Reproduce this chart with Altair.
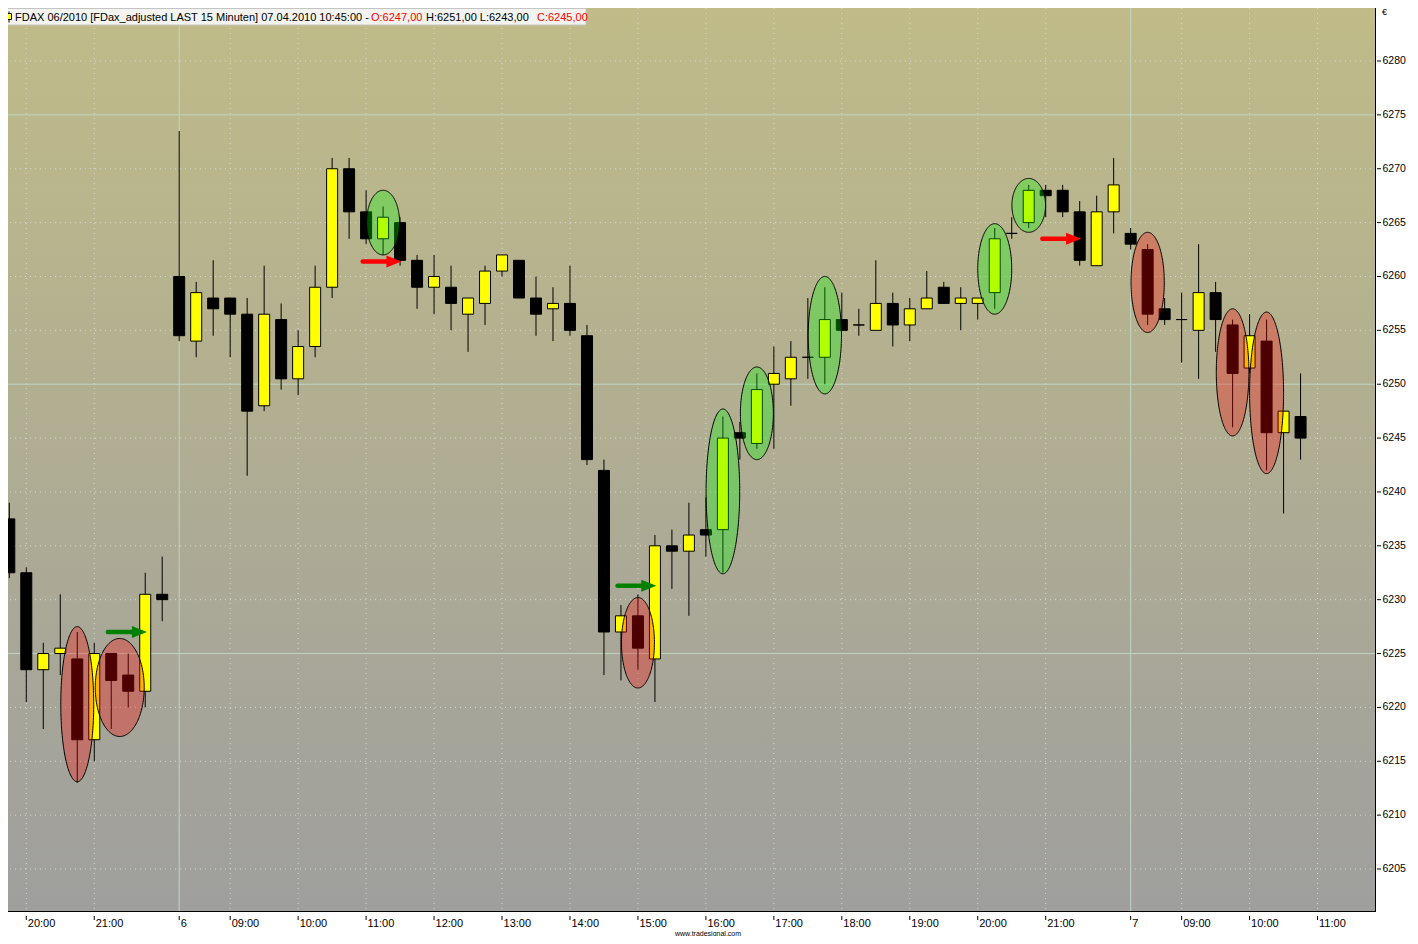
import numpy as np
import pandas as pd
import altair as alt

# ---------------- data ----------------
opens = [6237.5, 6232.5, 6223.5, 6225, 6224.5, 6217, 6225, 6223, 6221.5, 6230.5,
         6260, 6254, 6258, 6258, 6256.5, 6248, 6256, 6250.5, 6253.5, 6259,
         6270, 6266, 6263.5, 6265, 6261.5, 6259, 6259, 6256.5, 6257.5, 6260.5,
         6261.5, 6258, 6257, 6257.5, 6254.5, 6242, 6227, 6228.5, 6224.5, 6235,
         6234.5, 6236.5, 6236.5, 6245.5, 6244.5, 6250, 6250.5, 6252.5, 6252.5, 6256,
         6255.5, 6255, 6257.5, 6255.5, 6257, 6259, 6257.5, 6257.5, 6258.5, 6264,
         6265, 6268, 6268, 6266, 6261, 6266, 6264, 6262.5, 6257, 6256,
         6255, 6258.5, 6255.5, 6251.5, 6254, 6245.5, 6247]
highs = [6239, 6233, 6226, 6230.5, 6227, 6226, 6225, 6225, 6232.5, 6234,
         6273.5, 6259.5, 6261.5, 6258, 6258, 6261, 6257.5, 6255, 6261, 6271,
         6271, 6268, 6266.5, 6265.5, 6262, 6262, 6261, 6258, 6261, 6262,
         6261.5, 6260, 6259, 6261, 6255.5, 6243, 6229.5, 6230.5, 6236, 6236.5,
         6239, 6239.5, 6247, 6246.5, 6251, 6253.5, 6254, 6258, 6259, 6258.5,
         6257, 6261.5, 6258.5, 6258, 6260.5, 6259.5, 6259, 6258, 6264.5, 6265.5,
         6268.5, 6268.5, 6268.5, 6267, 6267.5, 6271, 6264.5, 6263, 6258, 6258.5,
         6263, 6259.5, 6256, 6256.5, 6256, 6247.5, 6251]
lows = [6232, 6220.5, 6218, 6223, 6213, 6215, 6218, 6220, 6220, 6228,
        6254, 6252.5, 6254.5, 6252.5, 6241.5, 6247.5, 6249.5, 6249, 6252.5, 6258,
        6263.5, 6263, 6262, 6261, 6257, 6256.5, 6255, 6253, 6255.5, 6260,
        6258, 6254.5, 6254, 6254.5, 6242.5, 6223, 6222.5, 6223.5, 6220.5, 6231,
        6228.5, 6234, 6232.5, 6243, 6244, 6244, 6248, 6250.5, 6250, 6255,
        6254.5, 6255, 6253.5, 6254, 6257, 6257.5, 6255, 6256, 6257, 6263.5,
        6264.5, 6265.5, 6265.5, 6261, 6261, 6264, 6262.5, 6255.5, 6255.5, 6252,
        6250.5, 6253, 6246, 6251, 6242, 6238, 6243]
closes = [6232.5, 6223.5, 6225, 6225.5, 6217, 6225, 6222.5, 6221.5, 6230.5, 6230,
          6254.5, 6258.5, 6257, 6256.5, 6247.5, 6256.5, 6250.5, 6253.5, 6259, 6270,
          6266, 6263.5, 6265.5, 6261.5, 6259, 6260, 6257.5, 6258, 6260.5, 6262,
          6258, 6256.5, 6257.5, 6255, 6243, 6227, 6228.5, 6225.5, 6235, 6234.5,
          6236, 6236, 6245, 6245, 6249.5, 6251, 6252.5, 6252.5, 6256, 6255,
          6255.5, 6257.5, 6255.5, 6257, 6258, 6257.5, 6258, 6258, 6263.5, 6264,
          6268, 6267.5, 6266, 6261.5, 6266, 6268.5, 6263, 6256.5, 6256, 6256,
          6258.5, 6256, 6251, 6254.5, 6245.5, 6247.5, 6245]

tick_idx = [1, 5, 10, 13, 17, 21, 25, 29, 33, 37, 41, 45, 49, 53, 57, 61, 66, 69, 73, 77]
tick_labels = ["20:00", "21:00", "6", "09:00", "10:00", "11:00", "12:00", "13:00",
               "14:00", "15:00", "16:00", "17:00", "18:00", "19:00", "20:00",
               "21:00", "7", "09:00", "10:00", "11:00"]
day_idx = [10, 66]

price_ticks = list(range(6205, 6285, 5))
major_prices = [6225, 6250, 6275]

ell_center = [4, 6.5, 22, 37, 42, 44, 48, 58, 60, 67, 72, 74]
ell_halfw = [0.97, 1.44, 0.97, 0.97, 0.99, 0.97, 0.98, 1.0, 0.99, 0.98, 0.96, 1.0]
ell_top = [6227.5, 6226.4, 6268.0, 6230.2, 6247.7, 6251.6, 6260.0, 6264.9, 6269.1, 6264.1, 6257.0, 6256.7]
ell_bottom = [6213.1, 6217.3, 6262.0, 6221.8, 6232.4, 6243.0, 6249.1, 6256.5, 6264.1, 6254.8, 6245.2, 6241.7]
ell_kind = ["down", "down", "up", "down", "up", "up", "up", "up", "up", "down", "down", "down"]

arr_start = [5.8, 20.8, 35.8, 60.8]
arr_end = [8.1, 23.08, 38.08, 63.08]
arr_price = [6227.0, 6261.4, 6231.3, 6263.5]
arr_kind = ["long", "short", "long", "short"]

# ---------------- layout / style ----------------
W, H = 1375, 904
X_DOM = [-0.4885, 80.44]
Y_DOM = [6201.01, 6284.92]
FONT = "Liberation Sans"
GRID_DOT = "#d3dbd0"
GRID_SOLID = "#bfd6c3"
ELL_COL = {"down": "#ff0000", "up": "#00ff00"}
ARR_COL = {"long": "#008000", "short": "#ff0000"}

xs = alt.Scale(domain=X_DOM, nice=False, zero=False, padding=0)
ys = alt.Scale(domain=Y_DOM, nice=False, zero=False, padding=0)

n = len(opens)
candles = pd.DataFrame({
    "i": list(range(n)), "o": opens, "h": highs, "l": lows, "c": closes,
})
candles["bt"] = candles[["o", "c"]].max(axis=1)
candles["bb"] = candles[["o", "c"]].min(axis=1)
candles["fill"] = np.where(candles["c"] > candles["o"], "#ffff00", "#000000")

one = pd.DataFrame({"a": [0]})

bg = alt.Chart(one).mark_rect(
    color=alt.LinearGradient(
        gradient="linear",
        stops=[alt.GradientStop(color="#c0bb88", offset=0),
               alt.GradientStop(color="#9f9f9e", offset=1)],
        x1=0, x2=0, y1=0, y2=1)
).encode(x=alt.value(0), x2=alt.value(W), y=alt.value(0), y2=alt.value(H))

hg = pd.DataFrame({"p": price_ticks, "lab": [str(p) for p in price_ticks]})
hg["major"] = hg["p"].isin(major_prices)
vg = pd.DataFrame({"t": tick_idx, "lab": tick_labels})
vg["major"] = vg["t"].isin(day_idx)

hdot = alt.Chart(hg[~hg["major"]]).mark_rule(color=GRID_DOT, strokeDash=[1, 4], strokeWidth=1).encode(
    y=alt.Y("p:Q", scale=ys, axis=None))
hsol = alt.Chart(hg[hg["major"]]).mark_rule(color=GRID_SOLID, strokeWidth=1).encode(
    y=alt.Y("p:Q", scale=ys, axis=None))
vdot = alt.Chart(vg[~vg["major"]]).mark_rule(color=GRID_DOT, strokeDash=[1, 4], strokeWidth=1).encode(
    x=alt.X("t:Q", scale=xs, axis=None))
vsol = alt.Chart(vg[vg["major"]]).mark_rule(color=GRID_SOLID, strokeWidth=1).encode(
    x=alt.X("t:Q", scale=xs, axis=None))

wicks = alt.Chart(candles).mark_rule(color="black", strokeWidth=1).encode(
    x=alt.X("i:Q", scale=xs, axis=None),
    y=alt.Y("l:Q", scale=ys, axis=None),
    y2="h:Q",
)
bodies = alt.Chart(candles).mark_bar(size=11, stroke="black", strokeWidth=1).encode(
    x=alt.X("i:Q", scale=xs, axis=None),
    y=alt.Y("bt:Q", scale=ys, axis=None),
    y2="bb:Q",
    color=alt.Color("fill:N", scale=None),
)

# ellipses (outline computed from centre / extent)
rows = []
t = np.linspace(np.pi, 0, 91)
for k in range(len(ell_center)):
    mid = (ell_top[k] + ell_bottom[k]) / 2
    half = (ell_top[k] - ell_bottom[k]) / 2
    for tt in t:
        rows.append({"k": k, "ex": ell_center[k] + ell_halfw[k] * np.cos(tt),
                     "ey": mid + half * np.sin(tt), "ey2": mid - half * np.sin(tt),
                     "col": ELL_COL[ell_kind[k]]})
ell = pd.DataFrame(rows)
ellipses = alt.Chart(ell).mark_area(fillOpacity=0.3, stroke="black", strokeWidth=1,
                                    interpolate="linear").encode(
    x=alt.X("ex:Q", scale=xs, axis=None),
    y=alt.Y("ey:Q", scale=ys, axis=None),
    y2="ey2:Q",
    detail="k:N",
    color=alt.Color("col:N", scale=None),
)

arr = pd.DataFrame({"s": arr_start, "e": arr_end, "p": arr_price,
                    "col": [ARR_COL[k] for k in arr_kind]})
arr["e2"] = arr["e"] - 0.45
shafts = alt.Chart(arr).mark_rule(strokeWidth=4.5, strokeCap="round").encode(
    x=alt.X("s:Q", scale=xs, axis=None), x2="e2:Q",
    y=alt.Y("p:Q", scale=ys, axis=None),
    color=alt.Color("col:N", scale=None),
)
heads = alt.Chart(arr).mark_point(shape="M -2 -0.8 L 0 0 L -2 0.8 Z", filled=True,
                                  size=225, opacity=1, strokeWidth=0).encode(
    x=alt.X("e:Q", scale=xs, axis=None),
    y=alt.Y("p:Q", scale=ys, axis=None),
    color=alt.Color("col:N", scale=None),
)

border_r = alt.Chart(one).mark_rule(color="black", strokeWidth=1).encode(
    x=alt.value(W - 0.5), y=alt.value(0), y2=alt.value(H))
border_b = alt.Chart(one).mark_rule(color="black", strokeWidth=1).encode(
    x=alt.value(0), x2=alt.value(W), y=alt.value(H - 0.5))

# axes: ticks and labels drawn from the tick arrays through the shared scales
xticks = alt.Chart(vg).mark_rule(color="black", strokeWidth=1).encode(
    x=alt.X("t:Q", scale=xs, axis=None), y=alt.value(H + 4), y2=alt.value(H + 8))
xlabels = alt.Chart(vg).mark_text(align="left", baseline="middle", dx=1.5, font=FONT,
                                  fontSize=11, color="black").encode(
    x=alt.X("t:Q", scale=xs, axis=None), y=alt.value(H + 12), text="lab:N")
yticks = alt.Chart(hg).mark_rule(color="black", strokeWidth=1).encode(
    y=alt.Y("p:Q", scale=ys, axis=None), x=alt.value(W + 1), x2=alt.value(W + 5))
ylabels = alt.Chart(hg).mark_text(align="left", baseline="middle", font=FONT,
                                  fontSize=10.5, color="black").encode(
    y=alt.Y("p:Q", scale=ys, axis=None), x=alt.value(W + 6.5), text="lab:N")

# title box
last = n - 1
def fmt(v):
    return f"{v:.2f}".replace(".", ",")

tbox = alt.Chart(one).mark_rect(fill="#f3f3ef", stroke="#c4c4c4", strokeWidth=1).encode(
    x=alt.value(-1), x2=alt.value(585), y=alt.value(0.5), y2=alt.value(17))
icon_w = alt.Chart(one).mark_rule(color="black", strokeWidth=1).encode(
    x=alt.value(8), y=alt.value(3.5), y2=alt.value(14.5))
icon_b = alt.Chart(one).mark_rect(fill="#ffff00", stroke="black", strokeWidth=1).encode(
    x=alt.value(5.5), x2=alt.value(10.5), y=alt.value(5.5), y2=alt.value(11.5))

segs = [
    (14, "FDAX 06/2010 [FDax_adjusted LAST 15 Minuten] 07.04.2010 10:45:00 -", "black"),
    (370, f"O:{fmt(opens[last])}", "#ff0000"),
    (425, f"H:{fmt(highs[last])} L:{fmt(lows[last])}", "black"),
    (536, f"C:{fmt(closes[last])}", "#ff0000"),
]
title_layers = [
    alt.Chart(one).mark_text(text=txt, color=col, align="left", baseline="middle",
                             font=FONT, fontSize=11).encode(x=alt.value(xp), y=alt.value(9.5))
    for xp, txt, col in segs
]

euro = alt.Chart(one).mark_text(text="€", align="left", baseline="middle", font=FONT,
                                fontSize=9, color="black").encode(
    x=alt.value(W + 6), y=alt.value(4))
wm = alt.Chart(one).mark_text(text="www.tradesignal.com", align="center", baseline="middle",
                              font=FONT, fontSize=7, color="black").encode(
    x=alt.value(707), y=alt.value(H + 21.5))

chart = alt.layer(
    bg, hdot, vdot, hsol, vsol, wicks, bodies, ellipses, shafts, heads,
    border_r, border_b, xticks, xlabels, yticks, ylabels,
    tbox, icon_w, icon_b, *title_layers, euro, wm
).properties(
    width=W, height=H,
    autosize=alt.AutoSizeParams(type="none"),
    padding={"left": -7, "top": 0, "right": 34, "bottom": 24},
    background="white",
).configure_view(strokeWidth=0)

chart.save("out.html", embed_options={"renderer": "svg", "actions": False})
